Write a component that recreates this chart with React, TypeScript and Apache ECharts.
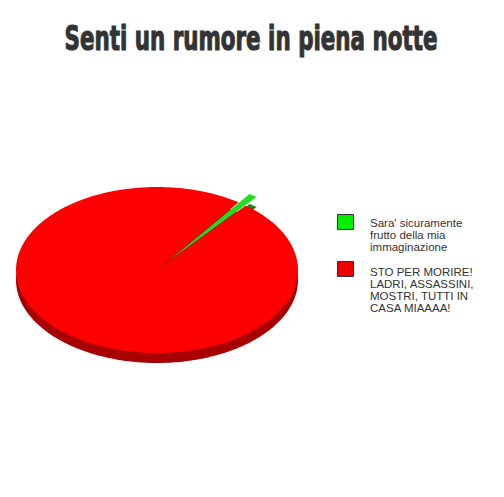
import { useEffect, useRef } from "react";
import * as echarts from "echarts";

const titleText = "Senti un rumore in piena notte";
const sliceNames = [
  "Sara' sicuramente\nfrutto della mia\nimmaginazione",
  "STO PER MORIRE!\nLADRI, ASSASSINI,\nMOSTRI, TUTTI IN\nCASA MIAAAA!",
];
const sliceValues = [1, 99];

const topColors = ["#22dd22", "#ff0000"];
const sideColors = ["#118811", "#a80000"];
const legendColors = ["#00ee00", "#ee0000"];

// pie geometry (pixels)
const CX = 157;
const CY = 270;
const RX = 141;
const RY = 83;
const DEPTH = 10;
const START_ANGLE = 54.6;
const EXPLODE = [18, 0];

const total = sliceValues.reduce((a, b) => a + b, 0);
const cumulative = sliceValues.map((_, i) => sliceValues.slice(0, i).reduce((a, b) => a + b, 0));

const App = () => {
  const ref = useRef<HTMLDivElement>(null);

  useEffect(() => {
    if (!ref.current) return;
    const chart = echarts.init(ref.current, null, { renderer: "svg" });

    const renderItem = (params: any, api: any) => {
      const i = params.dataIndex;
      const v = api.value(0);
      const a0 = START_ANGLE - (360 * cumulative[i]) / total;
      const a1 = a0 - (360 * v) / total;
      const mid = ((a0 + a1) / 2) * (Math.PI / 180);
      const ox = EXPLODE[i] * Math.cos(mid);
      const oy = -EXPLODE[i] * Math.sin(mid) * (RY / RX);
      const cx = CX + ox;
      const cy = CY + oy;
      const pts: number[][] = [[cx, cy]];
      const steps = Math.max(2, Math.ceil(Math.abs(a0 - a1)));
      for (let s = 0; s <= steps; s++) {
        const a = (a0 + ((a1 - a0) * s) / steps) * (Math.PI / 180);
        pts.push([cx + RX * Math.cos(a), cy - RY * Math.sin(a)]);
      }
      const side = pts.map((p) => [p[0], p[1] + DEPTH]);
      return {
        type: "group",
        children: [
          {
            type: "polygon",
            z2: i === 0 ? 0 : 1,
            shape: { points: side },
            style: { fill: sideColors[i] },
          },
          {
            type: "polygon",
            z2: i === 0 ? 3 : 2,
            shape: { points: pts },
            style: { fill: topColors[i] },
          },
        ],
      };
    };

    const legendTops = [214, 261];
    const legendTextTops = [217, 266];
    const graphics: any[] = [
      // title: condensed bold to look like the original poster font
      {
        type: "text",
        x: 251,
        y: 39,
        scaleX: 0.63,
        style: {
          text: titleText,
          fill: "#333333",
          stroke: "#333333",
          lineWidth: 1.2,
          font: "bold 34px 'DejaVu Sans', sans-serif",
          align: "center",
          verticalAlign: "middle",
        },
      },
    ];
    sliceNames.forEach((name, i) => {
      graphics.push({
        type: "rect",
        left: 337,
        top: legendTops[i],
        shape: { width: 16, height: 15 },
        style: { fill: legendColors[i], stroke: "#333", lineWidth: 1 },
      });
      graphics.push({
        type: "text",
        left: 370,
        top: legendTextTops[i],
        style: {
          text: name,
          fill: "#333",
          font: "11.5px 'Liberation Sans', Arial, sans-serif",
          lineHeight: 12,
        },
      });
    });

    chart.setOption({
      animation: false,
      backgroundColor: "#ffffff",
      graphic: graphics,
      series: [
        {
          type: "custom",
          coordinateSystem: "none",
          renderItem,
          data: sliceValues.map((v, i) => ({ name: sliceNames[i], value: [v] })),
        },
      ],
    });

    return () => chart.dispose();
  }, []);

  return (
    <div
      ref={ref}
      style={{ position: "absolute", left: 0, top: 0, width: 504, height: 497 }}
    />
  );
};

export default App;
